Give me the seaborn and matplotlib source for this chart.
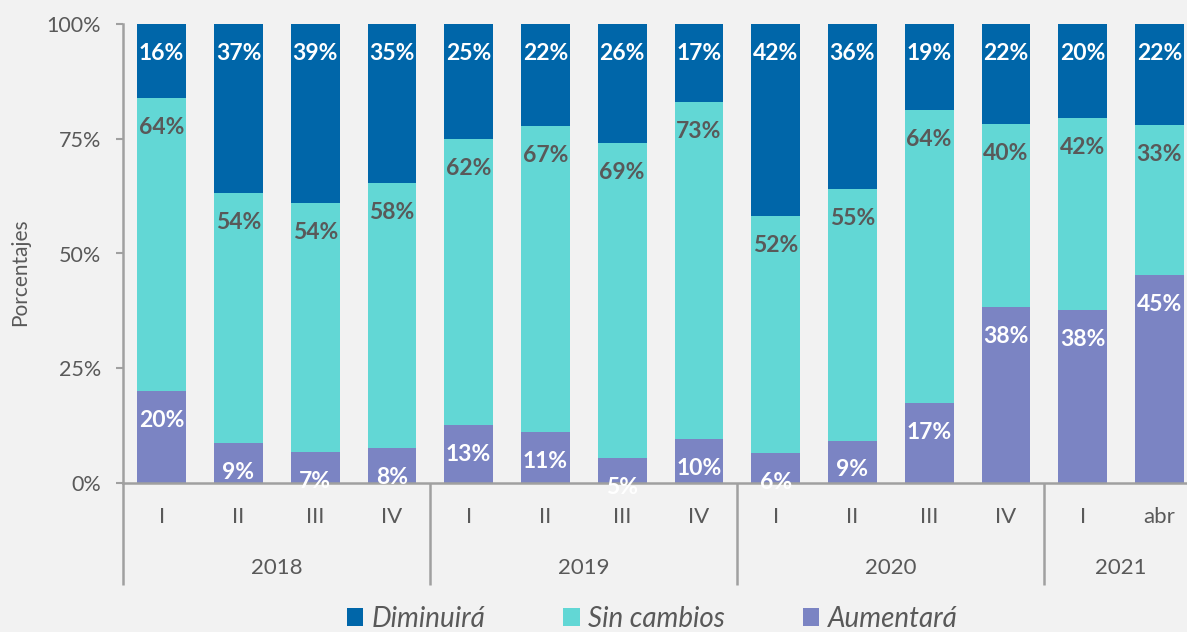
import numpy as np
import pandas as pd
import matplotlib
matplotlib.use("Agg")
import matplotlib.pyplot as plt
import matplotlib.transforms as mtransforms
from matplotlib.patches import Patch
import seaborn as sns

# ---- data ----
years = ["2018", "2019", "2020", "2021"]
year_sizes = [4, 4, 4, 2]
periods = ["I", "II", "III", "IV",
           "I", "II", "III", "IV",
           "I", "II", "III", "IV",
           "I", "abr"]
aumentara = [20.0, 8.7, 6.7, 7.6, 12.6, 11.1, 5.3, 9.6, 6.4, 9.2, 17.3, 38.3, 37.6, 45.3]
sin_cambios = [64.0, 54.4, 54.3, 57.8, 62.3, 66.8, 68.7, 73.4, 51.8, 54.9, 63.9, 40.0, 42.0, 32.8]
diminuira = [16.0, 36.9, 39.0, 34.6, 25.1, 22.1, 26.0, 17.0, 41.8, 35.9, 18.8, 21.7, 20.4, 21.9]
yticks = [0, 25, 50, 75, 100]
ytick_labels = ["0%", "25%", "50%", "75%", "100%"]
series_names = ["Diminuirá", "Sin cambios", "Aumentará"]

c_dim = "#0066A9"
c_sin = "#62D7D5"
c_aum = "#7B84C3"
bg = "#F2F2F2"
txt_grey = "#595959"
axis_grey = "#A0A0A0"

sns.set_theme(style="white")
plt.rcParams["font.family"] = ["Lato", "DejaVu Sans"]

W, H = 1187, 632
fig = plt.figure(figsize=(W / 100, H / 100), dpi=100)
fig.patch.set_facecolor(bg)

left_px, right_px = 123.3, 123.3 + 14 * 76.75
top_px, bottom_px = 24.3, 482.7
ax = fig.add_axes([left_px / W, 1 - bottom_px / H, (right_px - left_px) / W, (bottom_px - top_px) / H])
ax.set_facecolor(bg)

keys = [f"{i}" for i in range(len(periods))]
a = np.array(aumentara)
s = np.array(sin_cambios)
d = np.array(diminuira)
df = pd.DataFrame({"key": keys, "a": a, "as": a + s, "asd": a + s + d})

bw = 48.7 / 76.75
sns.barplot(data=df, x="key", y="asd", color=c_dim, saturation=1, width=bw, ax=ax, linewidth=0)
sns.barplot(data=df, x="key", y="as", color=c_sin, saturation=1, width=bw, ax=ax, linewidth=0)
sns.barplot(data=df, x="key", y="a", color=c_aum, saturation=1, width=bw, ax=ax, linewidth=0)

ax.set_xlim(-0.5, len(periods) - 0.5)
ax.set_ylim(0, 100)
ax.set_xlabel("")
ax.set_ylabel("")
ax.set_yticks(yticks)
ax.set_yticklabels(ytick_labels)
ax.set_xticks([])
ax.tick_params(axis="y", length=5, width=1.5, color=axis_grey, pad=11, labelsize=15.5, labelcolor=txt_grey, left=True)
for sp in ["top", "right"]:
    ax.spines[sp].set_visible(False)
ax.spines["left"].set_color(axis_grey)
ax.spines["left"].set_linewidth(1.8)
ax.spines["bottom"].set_color(axis_grey)
ax.spines["bottom"].set_linewidth(1.8)

# value labels (inside end)
off = -29.4 * 0.72
lab_fs = 16.5
for i in range(len(periods)):
    ax.annotate(f"{round(d[i])}%", (i, a[i] + s[i] + d[i]), xytext=(0, off), textcoords="offset points",
                ha="center", va="center", fontsize=lab_fs, fontweight="bold", color="white", zorder=5)
    ax.annotate(f"{round(s[i])}%", (i, a[i] + s[i]), xytext=(0, off), textcoords="offset points",
                ha="center", va="center", fontsize=lab_fs, fontweight="bold", color=txt_grey, zorder=5)
    ax.annotate(f"{round(a[i])}%", (i, a[i]), xytext=(0, off), textcoords="offset points",
                ha="center", va="center", fontsize=lab_fs, fontweight="bold", color="white", zorder=5,
                annotation_clip=False)

# multi-level category axis
trans = mtransforms.blended_transform_factory(ax.transData, ax.transAxes)
y_q = (bottom_px - 516.7) / (bottom_px - top_px)
y_y = (bottom_px - 568.0) / (bottom_px - top_px)
y_sep = (bottom_px - 585.0) / (bottom_px - top_px)
for i, p in enumerate(periods):
    ax.text(i, y_q, p, transform=trans, ha="center", va="center", fontsize=16, color=txt_grey, clip_on=False)
start = 0
bounds = [-0.5]
for yr, n in zip(years, year_sizes):
    ax.text(start + (n - 1) / 2, y_y, yr, transform=trans, ha="center", va="center", fontsize=16,
            color=txt_grey, clip_on=False)
    start += n
    bounds.append(start - 0.5)
for b in bounds:
    ax.plot([b, b], [0, y_sep], transform=trans, color=axis_grey, lw=1.8, clip_on=False, solid_capstyle="butt")

fig.text(20 / W, 1 - 272 / H, "Porcentajes", rotation=90, ha="center", va="center", fontsize=15, color=txt_grey)

handles = [Patch(facecolor=c, edgecolor="none") for c in [c_dim, c_sin, c_aum]]
leg = fig.legend(handles, series_names, loc="center", bbox_to_anchor=(652 / W, 13 / H), ncol=3,
                 frameon=False, handlelength=0.6, handleheight=0.6, handletextpad=0.3, columnspacing=2.8,
                 borderpad=0, prop={"style": "italic", "size": 20})
for t in leg.get_texts():
    t.set_color(txt_grey)

fig.savefig("out.png", dpi=100, facecolor=bg)
